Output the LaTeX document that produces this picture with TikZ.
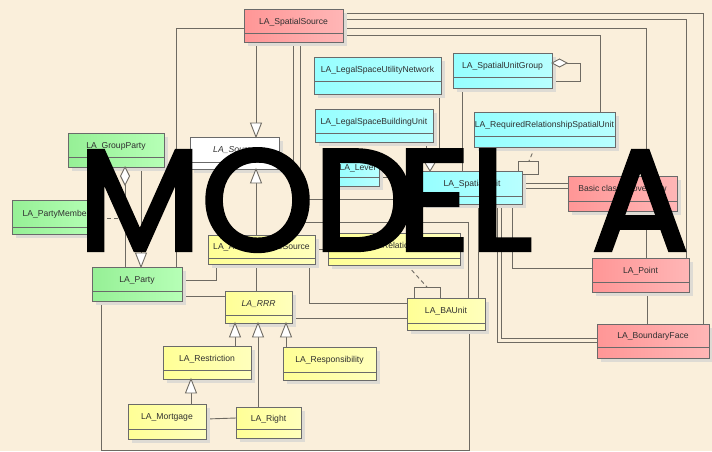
\documentclass[tikz,border=0pt]{standalone}
\usepackage{fontspec}
\setmainfont{Liberation Sans}
\newfontfamily\bigfont{Poppins}[FakeBold=3]
\definecolor{bg}{HTML}{FAEFDB}
\definecolor{linec}{HTML}{6E6A62}
\definecolor{boxc}{HTML}{6A6A6A}
\definecolor{shadowc}{HTML}{DEDBD4}
\definecolor{txtc}{HTML}{303030}
\definecolor{pinkL}{HTML}{FF9696}
\definecolor{pinkR}{HTML}{FFB6B6}
\definecolor{cyanL}{HTML}{96FFFF}
\definecolor{cyanR}{HTML}{B8FFFF}
\definecolor{greenL}{HTML}{96F096}
\definecolor{greenR}{HTML}{B6FFB6}
\definecolor{yelL}{HTML}{FFFF96}
\definecolor{yelR}{HTML}{FFFFBC}
\newcommand\umlclass[8]{%
  \fill[shadowc] ({#2+4},{#3+4}) rectangle ({#4+4},{#5+4});
  \node[classbox,#7,minimum width={#4-#2},minimum height={#5-#3}] (#1) at ({(#2+#4)/2},{(#3+#5)/2}) {};
  \draw[boxline] (#2,#6) -- (#4,#6);
  \node[classlabel] at ({(#2+#4)/2},{(#3+#6)/2+3.1}) {#8};
}
% hollow generalisation triangle, apex at (#2,#3), base at height #4
\newcommand\gentri[4][5.5]{%
  \filldraw[fill=white,draw=linec,line width=0.9pt] (#2,#3) -- ({#2-#1},#4) -- ({#2+#1},#4) -- cycle;
}
\begin{document}
\begin{tikzpicture}[x=1pt,y=-1pt,
  conn/.style={draw=linec,line width=0.9pt},
  dashconn/.style={conn,dash pattern=on 4pt off 3pt},
  classbox/.style={rectangle,draw=boxc,line width=1pt,inner sep=0pt,outer sep=0pt},
  boxline/.style={draw=boxc,line width=1pt},
  classlabel/.style={anchor=base,inner sep=0pt,text=txtc,font=\fontsize{8.6}{10}\selectfont},
  pinkbox/.style={left color=pinkL,right color=pinkR},
  cyanbox/.style={left color=cyanL,right color=cyanR},
  greenbox/.style={left color=greenL,right color=greenR},
  yelbox/.style={left color=yelL,right color=yelR},
  whitebox/.style={left color=white,right color=white}]
\useasboundingbox (0,0) rectangle (712,451);
\fill[bg] (0,0) rectangle (712,451);

% ---- associations (drawn first, the class boxes go on top)
% LA_SpatialSource
\draw[conn] (244,28) -| (176,267);
\draw[conn] (256,42) -- (256,123);
\draw[conn] (293,42) |- (422,199);
\draw[conn] (300,42) |- (468,222) -- (468,298);
\draw[conn] (343,13) -| (703,324);
\draw[conn] (343,19) -| (686,258);
\draw[conn] (343,28) -| (646,258);
\draw[conn] (343,35) -| (600,112);
% LA_Source / LA_AdministrativeSource
\draw[conn] (256,183) -- (256,235);
% parties
\draw[conn] (125,185) -- (125,267);
\draw[conn] (141,167) -- (141,253);
\draw[dashconn] (100,218) -- (125,218);
\draw[conn] (182,280) -| (216,264);
\draw[conn] (182,296) -- (225,296);
\draw[conn] (101,301) |- (469,450) -- (469,330);
% administrative source, RRR, BA unit
\draw[conn] (256,264) -- (256,291);
\draw[conn] (309,264) |- (407,303);
\draw[conn] (315,249) -- (328,249);
\draw[conn] (292,318) -- (407,318);
\draw[conn] (235,346) -- (235,337);
\draw[conn] (258,407) -- (258,337);
\draw[conn] (286,347) -- (286,337);
\draw[conn] (191,404) -- (191,393);
\draw[conn] (206,419) -- (236,418);
\draw[conn] (414,298) |- (440,287) -- (440,298);
\draw[dashconn] (407,265) -- (427,287);
% spatial unit
\draw[conn] (379,177) -- (422,177);
\draw[conn] (462,88) -- (462,171);
\draw[conn] (426,142) -- (426,157);
\draw[conn] (439,94) -- (439,157);
\draw[conn] (518,171) |- (538,161) |- (522,174);
\draw[dashconn] (535,147) -- (529,161);
\draw[conn] (522,183) -- (568,183);
\draw[conn] (522,188) -- (568,188);
\draw[conn] (478,204) -- (478,298);
\draw[conn] (497,204) |- (597,342);
\draw[conn] (501,204) |- (597,338);
\draw[conn] (512,204) |- (592,268);
\draw[conn] (647,292) -- (647,324);
\draw[conn] (567,63) -| (580,81) -- (552,81);

% ---- classes
\umlclass{ss}{244}{9}{343}{42}{33}{pinkbox}{LA\_SpatialSource}
\umlclass{src}{190}{137}{279}{169}{162}{whitebox}{\itshape LA\_Source}
\umlclass{gp}{68}{133}{164}{167}{157}{greenbox}{LA\_GroupParty}
\umlclass{pm}{12}{200}{100}{234}{227}{greenbox}{LA\_PartyMember}
\umlclass{party}{92}{267}{182}{301}{291}{greenbox}{LA\_Party}
\umlclass{adm}{208}{235}{315}{264}{258}{yelbox}{LA\_AdministrativeSource}
\umlclass{rrr}{225}{291}{292}{323}{315}{yelbox}{\itshape LA\_RRR}
\umlclass{restr}{163}{346}{251}{379}{370}{yelbox}{LA\_Restriction}
\umlclass{resp}{283}{347}{376}{380}{372}{yelbox}{LA\_Responsibility}
\umlclass{mort}{128}{404}{206}{439}{429}{yelbox}{LA\_Mortgage}
\umlclass{right}{236}{407}{301}{438}{429}{yelbox}{LA\_Right}
\umlclass{bau}{407}{298}{485}{330}{323}{yelbox}{LA\_BAUnit}
\umlclass{rrbau}{328}{233}{460}{265}{258}{yelbox}{LA\_RequiredRelationshipBAUnit}
\umlclass{lsun}{314}{57}{441}{94}{81}{cyanbox}{LA\_LegalSpaceUtilityNetwork}
\umlclass{lsbu}{315}{109}{433}{142}{133}{cyanbox}{LA\_LegalSpaceBuildingUnit}
\umlclass{sug}{453}{53}{552}{88}{77}{cyanbox}{LA\_SpatialUnitGroup}
\umlclass{rrsu}{474}{112}{615}{147}{136}{cyanbox}{LA\_RequiredRelationshipSpatialUnit}
\umlclass{level}{336}{157}{379}{186}{177}{cyanbox}{LA\_Level}
\umlclass{su}{422}{171}{522}{204}{196}{cyanbox}{LA\_SpatialUnit}
\umlclass{basic}{568}{176}{677}{211}{201}{pinkbox}{Basic classes overview}
\umlclass{point}{592}{258}{689}{292}{282}{pinkbox}{LA\_Point}
\umlclass{bf}{597}{324}{709}{358}{347}{pinkbox}{LA\_BoundaryFace}

% ---- generalisation arrowheads
\gentri{256}{137}{123}
\gentri{256}{169}{183}
\gentri{141}{267}{253}
\gentri{235}{323}{337}
\gentri{258}{323}{337}
\gentri{286}{323}{337}
\gentri{191}{379}{393}
\gentri[8.5]{430}{171}{157}
% ---- aggregation diamonds
\filldraw[fill=white,draw=linec,line width=0.9pt] (125,167) -- (129.5,176) -- (125,185) -- (120.5,176) -- cycle;
\filldraw[fill=white,draw=linec,line width=0.9pt] (552,63) -- (559.5,59) -- (567,63) -- (559.5,67) -- cycle;

% ---- overlay title
\node[anchor=base west,inner sep=0pt,text=black,font=\bigfont\fontsize{143}{143}\selectfont] (title) at (78,250) {MOD\kern-18pt EL\kern22pt{} A};
\end{tikzpicture}
\end{document}
